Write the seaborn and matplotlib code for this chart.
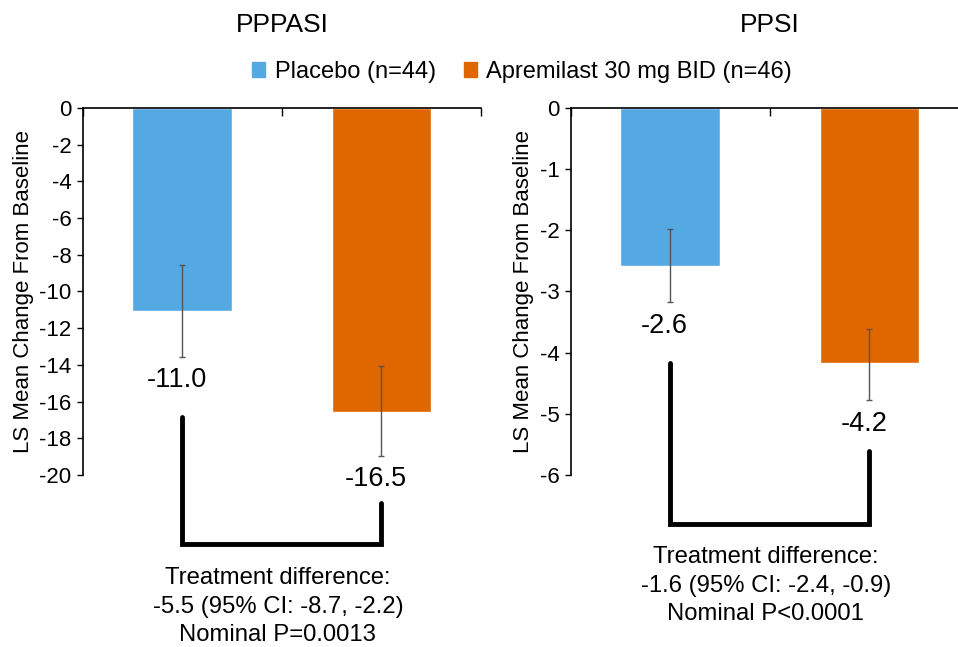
import pandas as pd
import matplotlib.pyplot as plt
import matplotlib.transforms as mtransforms
import seaborn as sns

# valores
groups = ['Placebo (n=44)', 'Apremilast 30 mg BID (n=46)']
colors = ['#55A9E3', '#E06600']

pppasi_mean = [-11.05, -16.55]
pppasi_ci_top = [-8.55, -14.05]
pppasi_ci_bottom = [-13.55, -18.95]
pppasi_labels = ['-11.0', '-16.5']
pppasi_diff = 'Treatment difference:\n-5.5 (95% CI: -8.7, -2.2)\nNominal P=0.0013'

ppsi_mean = [-2.58, -4.17]
ppsi_ci_top = [-1.98, -3.62]
ppsi_ci_bottom = [-3.18, -4.78]
ppsi_labels = ['-2.6', '-4.2']
ppsi_diff = 'Treatment difference:\n-1.6 (95% CI: -2.4, -0.9)\nNominal P<0.0001'

sns.set_style('white')
plt.rcParams['font.family'] = ['Liberation Sans', 'DejaVu Sans']
plt.rcParams['axes.unicode_minus'] = False
for k in ['text.color', 'axes.labelcolor', 'xtick.color', 'ytick.color']:
    plt.rcParams[k] = 'black'

fig = plt.figure(figsize=(9.58, 6.47), dpi=100)
ax1 = fig.add_axes([0.0863, 0.266, 0.4158, 0.567])
ax2 = fig.add_axes([0.5957, 0.266, 0.4158, 0.567])

panels = [
    (ax1, 'PPPASI', pppasi_mean, pppasi_ci_top, pppasi_ci_bottom, pppasi_labels, pppasi_diff,
     (-20, 0), range(-20, 1, 2), (0.159, -0.076, -0.188), -0.252),
    (ax2, 'PPSI', ppsi_mean, ppsi_ci_top, ppsi_ci_bottom, ppsi_labels, ppsi_diff,
     (-6, 0), range(-6, 1, 1), (0.306, 0.064, -0.134), -0.195),
]

for ax, title, mean, ci_top, ci_bot, labels, diff, ylim, yticks, brk, txt_y in panels:
    df = pd.DataFrame({'group': groups, 'value': mean})
    sns.barplot(data=df, x='group', y='value', hue='group', palette=colors,
                width=0.5, ax=ax, legend=False, saturation=1)
    lower = [m - b for m, b in zip(mean, ci_bot)]
    upper = [t - m for m, t in zip(mean, ci_top)]
    ax.errorbar(range(len(mean)), mean, yerr=[lower, upper], fmt='none',
                ecolor='#555555', elinewidth=1, capsize=2.5, capthick=1)

    for i, (lab, b) in enumerate(zip(labels, ci_bot)):
        ax.annotate(lab, xy=(i, b), xytext=(-4, -17), textcoords='offset points',
                    ha='center', va='center', fontsize=19.5)

    ax.set_ylim(*ylim)
    ax.set_xlim(-0.5, 1.5)
    ax.set_yticks(list(yticks))
    ax.tick_params(axis='y', direction='out', length=4, width=1, labelsize=16, pad=4, left=True)
    ax.xaxis.tick_top()
    ax.set_xticks([-0.5, 0.5, 1.5])
    ax.set_xticklabels([])
    ax.tick_params(axis='x', direction='in', length=6, width=1, top=True, bottom=False)
    ax.set_xlabel('')
    ax.set_ylabel('LS Mean Change From Baseline', fontsize=16, labelpad=4)
    for s in ['bottom', 'right']:
        ax.spines[s].set_visible(False)
    for s in ['left', 'top']:
        ax.spines[s].set_color('black')
        ax.spines[s].set_linewidth(1.2)

    # título do painel
    fig.text(ax.get_position().x0 + ax.get_position().width / 2, 0.961, title,
             ha='center', va='center', fontsize=19)

    trans = mtransforms.blended_transform_factory(ax.transData, ax.transAxes)
    ax.plot([0, 0, 1, 1], [brk[0], brk[2], brk[2], brk[1]], color='black', lw=3.5,
            transform=trans, clip_on=False, solid_joinstyle='miter')
    ax.text(0.48, txt_y, diff, transform=trans, ha='center', va='top', fontsize=17.2,
            linespacing=1.37)

handles = [plt.Rectangle((0, 0), 1, 1, color=c) for c in colors]
fig.legend(handles, groups, loc='center', bbox_to_anchor=(0.545, 0.889), ncol=2,
           frameon=False, fontsize=17, handlelength=0.55, handleheight=0.55,
           handletextpad=0.4, columnspacing=1.2)

fig.savefig('out.png', dpi=100)
